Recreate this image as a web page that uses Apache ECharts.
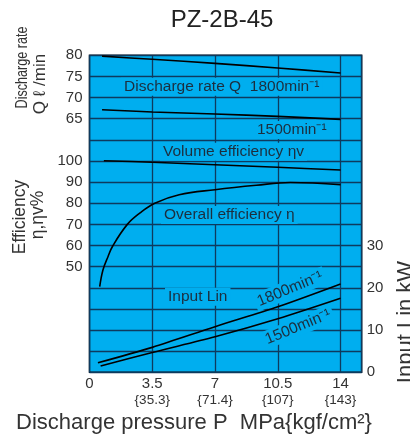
<!DOCTYPE html>
<html>
<head>
<meta charset="utf-8">
<script src="https://cdn.jsdelivr.net/npm/echarts@6/dist/echarts.min.js"></script>
<style>
html,body{margin:0;padding:0;background:#fff;}
#chart{width:410px;height:436px;}
</style>
</head>
<body>
<div id="chart"></div>
<script>
// ---- data ----
var xTicks = [0, 3.5, 7, 10.5, 14];
var xSubLabels = ['', '{35.3}', '{71.4}', '{107}', '{143}'];
var dischargeTicks = [80, 75, 70, 65];
var efficiencyTicks = [100, 90, 80, 70, 60, 50];
var inputTicks = [0, 10, 20, 30];

var qPressure = [0.7, 3.5, 7, 10.5, 14];
var q1800 = [79.8, 79.05, 78.1, 77.0, 75.8];
var q1500 = [67.1, 66.6, 66.1, 65.55, 64.85];

var veffPressure = [0.8, 3.5, 7, 10.5, 14];
var volumeEff = [100.1, 99.4, 98.2, 97.0, 95.7];

var oeffPressure = [0.57, 0.75, 1.03, 1.31, 2.11, 2.8, 3.64, 5.0, 7.0, 9.3, 11.2, 14];
var overallEff = [40.5, 48.4, 54.7, 60, 70, 75.3, 80, 84, 86.4, 88.5, 89.8, 88.8];

var in1800Pressure = [0.47, 3.5, 7, 10.5, 14];
var input1800 = [2.25, 5.9, 10.8, 15.5, 20.9];
var in1500Pressure = [0.62, 3.5, 7, 10.5, 14];
var input1500 = [1.5, 4.7, 8.4, 12.65, 17.5];

function zip(a, b) { return a.map(function (v, i) { return [v, b[i]]; }); }

var FONT = '"Liberation Sans", Arial, Helvetica, sans-serif';
var BLUE = '#00aeef';
var GRIDC = '#0e3a5e';
var TXT = '#1c2e3e';

function lineSeries(name, xi, yi, data, smooth) {
  return {
    name: name, type: 'line', xAxisIndex: xi, yAxisIndex: yi,
    data: data, showSymbol: false, smooth: smooth, z: 5,
    lineStyle: { color: '#000', width: 1.6 }
  };
}

function annot(text, x, y, opts) {
  opts = opts || {};
  return {
    type: 'text', x: x, y: y, z: 3,
    rotation: opts.rotation || 0,
    style: {
      text: text, fill: TXT,
      font: (opts.size || 15.5) + 'px ' + FONT,
      align: opts.align || 'left', verticalAlign: 'middle',
      backgroundColor: BLUE, padding: [1, 3]
    }
  };
}

function label(text, x, y, size, rotation, scaleX, color) {
  return {
    type: 'text', x: x, y: y, rotation: rotation || 0, scaleX: scaleX || 1,
    style: {
      text: text, fill: color || '#333', font: size + 'px ' + FONT,
      align: 'center', verticalAlign: 'middle'
    }
  };
}

var chart = echarts.init(document.getElementById('chart'), null, { renderer: 'canvas' });
var option = {
  animation: false,
  backgroundColor: '#fff',
  grid: {
    left: 89.5, top: 55.3, width: 272.2, height: 317,
    show: true, backgroundColor: BLUE, borderColor: '#0a1622', borderWidth: 1.5
  },
  xAxis: [
    {
      type: 'value', min: 0, max: 15.18, interval: 3.5, position: 'bottom',
      axisLine: { show: false }, axisTick: { show: false },
      splitLine: { show: true, lineStyle: { color: GRIDC, width: 1.3 } },
      axisLabel: {
        margin: 4, fontSize: 15, fontFamily: FONT, color: '#333',
        formatter: function (v) {
          var i = xTicks.indexOf(Math.round(v * 100) / 100);
          return i < 0 ? '' : String(xTicks[i]);
        }
      }
    },
    {
      type: 'value', min: 0, max: 15.18, interval: 3.5, position: 'bottom', offset: 17,
      axisLine: { show: false }, axisTick: { show: false }, splitLine: { show: false },
      axisLabel: {
        margin: 4, fontSize: 13.5, fontFamily: FONT, color: '#333',
        formatter: function (v) {
          var i = xTicks.indexOf(Math.round(v * 100) / 100);
          return i < 0 ? '' : xSubLabels[i];
        }
      }
    }
  ],
  yAxis: [
    {
      type: 'value', min: 5, max: 80, interval: 5, position: 'left',
      axisLine: { show: false }, axisTick: { show: false }, splitLine: { show: false },
      axisLabel: {
        margin: 7, fontSize: 15, fontFamily: FONT, color: '#333',
        formatter: function (v) { return dischargeTicks.indexOf(v) < 0 ? '' : String(v); }
      }
    },
    {
      type: 'value', min: 0, max: 150, interval: 10, position: 'left',
      axisLine: { show: false }, axisTick: { show: false }, splitLine: { show: false },
      axisLabel: {
        margin: 7, fontSize: 15, fontFamily: FONT, color: '#333',
        formatter: function (v) { return efficiencyTicks.indexOf(v) < 0 ? '' : String(v); }
      }
    },
    {
      type: 'value', min: 0, max: 75, interval: 5, position: 'right',
      axisLine: { show: false }, axisTick: { show: false },
      splitLine: { show: true, lineStyle: { color: GRIDC, width: 1.3 } },
      axisLabel: {
        margin: 5, fontSize: 15, fontFamily: FONT, color: '#333',
        formatter: function (v) { return inputTicks.indexOf(v) < 0 ? '' : String(v); }
      }
    }
  ],
  series: [
    lineSeries('Q 1800', 0, 0, zip(qPressure, q1800), 0.3),
    lineSeries('Q 1500', 0, 0, zip(qPressure, q1500), 0.3),
    lineSeries('Volume efficiency', 0, 1, zip(veffPressure, volumeEff), 0.3),
    lineSeries('Overall efficiency', 0, 1, zip(oeffPressure, overallEff), 0.4),
    lineSeries('Input 1800', 0, 2, zip(in1800Pressure, input1800), 0.3),
    lineSeries('Input 1500', 0, 2, zip(in1500Pressure, input1500), 0.3)
  ],
  graphic: [
    label('PZ-2B-45', 222, 20, 24, 0, 1, '#222'),
    label('Discharge rate', 22, 67.5, 17, Math.PI / 2, 0.74),
    label('Q \u2113 /min', 40, 84, 17, Math.PI / 2, 1),
    label('Efficiency', 20, 217, 17.5, Math.PI / 2, 1),
    label('\u03b7,\u03b7v%', 38, 215, 17.5, Math.PI / 2, 1),
    label('Input Lin kW', 406, 322, 22, Math.PI / 2, 1),
    label('Discharge pressure P  MPa{kgf/cm\u00b2}', 194, 423, 22, 0, 1),
    annot('Discharge rate Q  1800min\u207b\u00b9', 121, 86.7),
    annot('1500min\u207b\u00b9', 254, 130),
    annot('Volume efficiency \u03b7v', 160, 151.7),
    annot('Overall efficiency \u03b7', 161, 215),
    annot('Input Lin', 165, 296.7),
    annot('1800min\u207b\u00b9', 290, 289, { align: 'center', rotation: 0.39 }),
    annot('1500min\u207b\u00b9', 298, 327, { align: 'center', rotation: 0.39 })
  ]
};
chart.setOption(option);
</script>
</body>
</html>
